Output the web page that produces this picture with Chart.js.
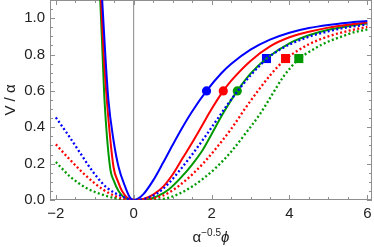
<!DOCTYPE html>
<html>
<head><meta charset="utf-8"><title>V / α</title>
<script src="https://cdn.jsdelivr.net/npm/chart.js"></script>
<style>
  body{margin:0;background:#fff;}
  #wrap{position:relative;width:374px;height:247px;}
  #xlab{position:absolute;left:0;width:422px;top:228px;text-align:center;font:15px "Liberation Sans",Arial,sans-serif;color:#222;line-height:17px;}
  #xlab sup{font-size:10px;vertical-align:6px;line-height:0;}
</style>
</head>
<body>
<div id="wrap">
  <canvas id="c" width="374" height="247"></canvas>
  <div id="xlab">α<sup>−0.5</sup><i>ϕ</i></div>
</div>
<script>
// solid curves
const xBlueSolid  = [-0.9,-0.81,-0.73,-0.65,-0.52,-0.39,-0.22,-0.1,0,0.12,0.25,0.5,0.75,1.0,1.25,1.5,1.87,2.25,2.5,3.0,3.5,4.0,4.5,5.0,5.5,6.0];
const yBlueSolid  = [1.4,1.1,0.8,0.55,0.33,0.183,0.073,0.015,0,0.009,0.032,0.108,0.203,0.303,0.399,0.487,0.6,0.697,0.748,0.827,0.882,0.92,0.946,0.963,0.975,0.984];
const xRedSolid   = [-0.92,-0.84,-0.77,-0.69,-0.52,-0.4,-0.3,-0.15,0,0.25,0.5,0.75,1.0,1.25,1.5,1.75,2.0,2.3,2.5,3.0,3.5,4.0,4.5,5.0,5.5,6.0];
const yRedSolid   = [1.4,1.1,0.8,0.55,0.183,0.1,0.05,0.01,0,0.006,0.03,0.072,0.14,0.228,0.315,0.407,0.5,0.6,0.655,0.765,0.845,0.895,0.925,0.948,0.964,0.976];
const xGreenSolid = [-0.94,-0.86,-0.8,-0.75,-0.61,-0.5,-0.39,-0.25,-0.1,0,0.3,0.6,0.9,1.2,1.5,1.75,2.0,2.3,2.66,3.0,3.45,4.0,4.5,5.0,5.5,6.0];
const yGreenSolid = [1.4,1.1,0.8,0.55,0.183,0.1,0.05,0.015,0.002,0,0.002,0.02,0.058,0.12,0.195,0.268,0.362,0.478,0.6,0.695,0.785,0.862,0.906,0.936,0.956,0.971];
// dotted curves
const xBlueDot  = [-2,-1.71,-1.37,-1.03,-0.69,-0.3,0,0.3,0.6,0.9,1.2,1.5,1.8,2.1,2.4,2.7,3.0,3.41,3.7,4.0,4.5,5.0,5.5,6.0];
const yBlueDot  = [0.454,0.366,0.257,0.15,0.068,0.02,0,0.008,0.036,0.092,0.168,0.25,0.338,0.43,0.522,0.608,0.685,0.775,0.82,0.855,0.898,0.928,0.95,0.965];
const xRedDot   = [-2,-1.63,-1.2,-0.77,-0.43,-0.15,0,0.3,0.6,0.9,1.2,1.5,1.8,2.1,2.5,2.9,3.2,3.5,3.9,4.2,4.5,5.0,5.5,6.0];
const yRedDot   = [0.306,0.22,0.128,0.055,0.018,0.002,0,0.002,0.013,0.04,0.084,0.14,0.205,0.28,0.39,0.515,0.603,0.685,0.775,0.82,0.857,0.9,0.93,0.952];
const xGreenDot = [-2,-1.63,-1.2,-0.77,-0.4,0,0.4,0.86,1.2,1.5,1.8,2.1,2.5,2.85,3.25,3.55,3.85,4.24,4.55,4.85,5.35,5.7,6.0];
const yGreenDot = [0.209,0.128,0.064,0.027,0.006,0,0.001,0.01,0.038,0.074,0.12,0.175,0.265,0.36,0.475,0.578,0.68,0.775,0.82,0.857,0.9,0.925,0.938];
// markers
const xCircles = [1.87,2.30,2.66];
const yCircles = [0.6,0.6,0.6];
const xSquares = [3.41,3.90,4.24];
const ySquares = [0.778,0.778,0.778];
const colors = ['#0000ff','#ff0000','#009a00'];

const pts = (xs, ys) => xs.map((x, i) => ({x: x, y: ys[i]}));

function curve(xs, ys, color, dotted) {
  return { data: pts(xs, ys), borderColor: color, borderWidth: dotted ? 2.3 : 2,
    borderDash: dotted ? [2, 2.4] : [], pointRadius: 0, fill: false,
    cubicInterpolationMode: 'monotone' };
}
function marks(xs, ys, style, r) {
  return xs.map((x, i) => ({ type: 'scatter', data: [{x: x, y: ys[i]}], showLine: false,
    pointStyle: style, pointRadius: r, backgroundColor: colors[i], borderColor: colors[i], borderWidth: 0 }));
}

// frame with inward ticks, Mathematica style
const frame = {
  id: 'frame',
  beforeDatasetsDraw(chart) {
    const {ctx, chartArea: a, scales: {x, y}} = chart;
    ctx.save();
    ctx.strokeStyle = '#8f8f8f';
    ctx.lineWidth = 1;
    ctx.strokeRect(a.left + 0.5, a.top + 0.5, a.right - a.left - 1, a.bottom - a.top - 1);
    ctx.beginPath();
    for (let k = -4; k <= 12; k++) {
      const p = Math.round(x.getPixelForValue(k * 0.5)) + 0.5;
      const L = k % 4 === 0 ? 5 : 3;
      ctx.moveTo(p, a.bottom); ctx.lineTo(p, a.bottom - L);
      ctx.moveTo(p, a.top); ctx.lineTo(p, a.top + L);
    }
    for (let k = 0; k <= 22; k++) {
      const p = Math.round(y.getPixelForValue(k * 0.05)) + 0.5;
      const L = k % 4 === 0 ? 5 : 3;
      ctx.moveTo(a.left, p); ctx.lineTo(a.left + L, p);
      ctx.moveTo(a.right, p); ctx.lineTo(a.right - L, p);
    }
    ctx.stroke();
    ctx.restore();
  }
};

const font = {family: '"Liberation Sans", Arial, sans-serif', size: 15};

new Chart(document.getElementById('c'), {
  type: 'line',
  data: { datasets: [
    curve(xBlueDot, yBlueDot, colors[0], true),
    curve(xRedDot, yRedDot, colors[1], true),
    curve(xGreenDot, yGreenDot, colors[2], true),
    curve(xBlueSolid, yBlueSolid, colors[0], false),
    curve(xRedSolid, yRedSolid, colors[1], false),
    curve(xGreenSolid, yGreenSolid, colors[2], false),
    ...marks(xCircles, yCircles, 'circle', 4.6),
    ...marks(xSquares, ySquares, 'rect', 6.4)
  ]},
  options: {
    responsive: false, animation: false,
    layout: { autoPadding: false, padding: {top: 0, right: 2, left: 0, bottom: 0} },
    plugins: { legend: {display: false}, tooltip: {enabled: false} },
    scales: {
      x: { type: 'linear', min: -2.15, max: 6.12,
        ticks: { stepSize: 2, includeBounds: false, color: '#222', font: font, padding: 5,
                 callback: v => v < 0 ? '−' + Math.abs(v) : String(v) },
        grid: { drawTicks: false, lineWidth: 1.2,
                color: c => (c.tick && c.tick.value === 0) ? '#9a9a9a' : 'rgba(0,0,0,0)' },
        border: { display: false },
        afterFit: s => { s.height = 47; s.paddingLeft = 0; s.paddingRight = 0; } },
      y: { min: 0, max: 1.1,
        ticks: { stepSize: 0.2, includeBounds: false, color: '#222', font: font, padding: 5,
                 callback: v => v.toFixed(1) },
        grid: { display: false, drawTicks: false },
        border: { display: false },
        title: { display: true, text: 'V / α', color: '#222', font: font, padding: {top: 2, bottom: 0} },
        afterFit: s => { s.width = 50; s.paddingTop = 0; s.paddingBottom = 0; } }
    }
  },
  plugins: [frame]
});
</script>
</body>
</html>
